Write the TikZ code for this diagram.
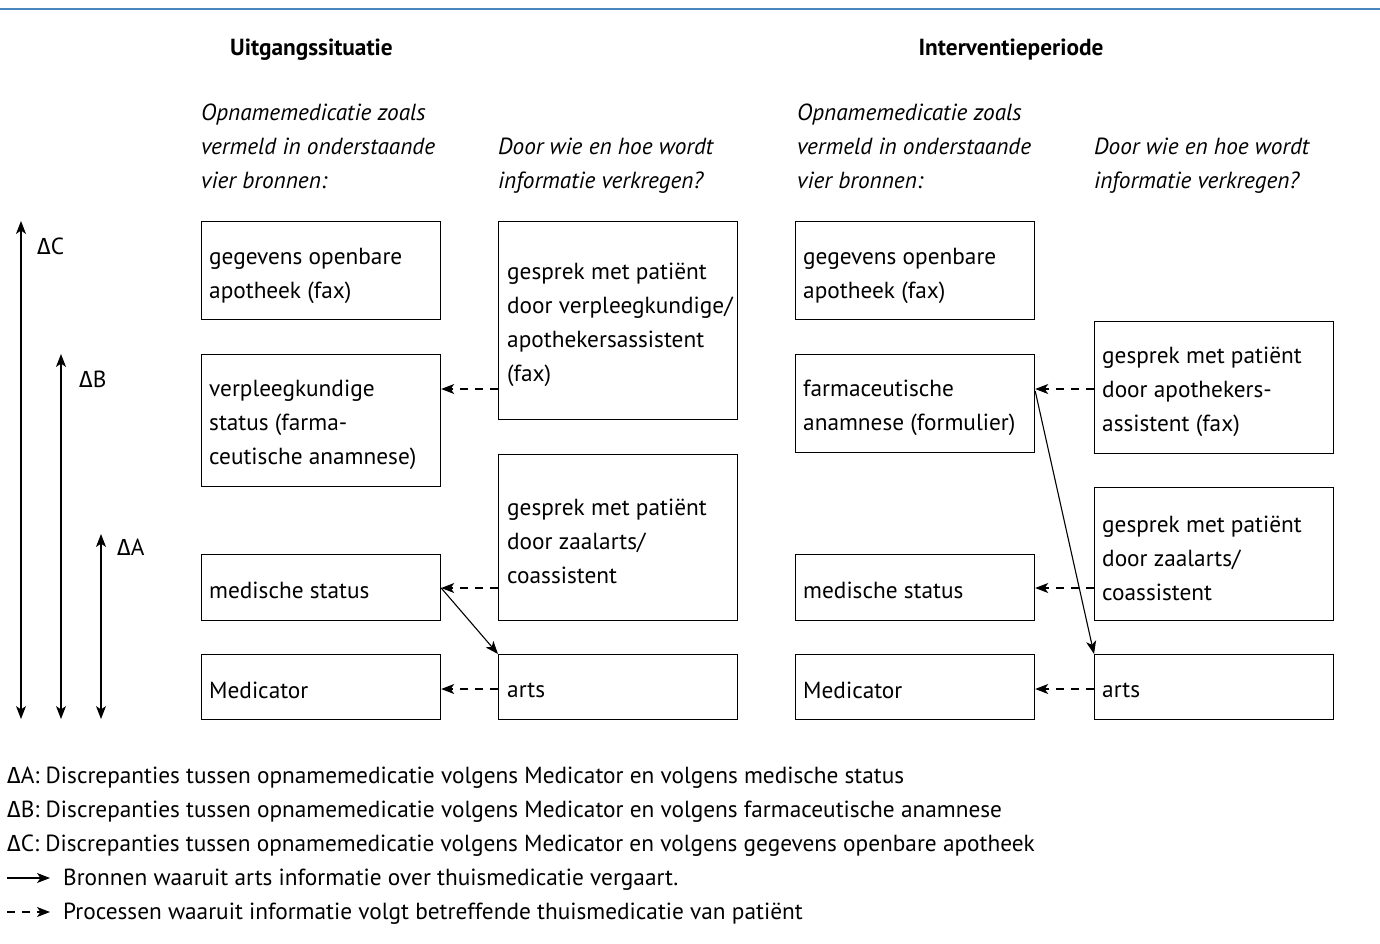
\documentclass[tikz,border=0pt]{standalone}
\usepackage{fontspec}
\setmainfont{PT Sans}
\newfontfamily\grkfont{Fira Sans}
\usetikzlibrary{arrows.meta}
\newcommand{\Dlt}{{\grkfont Δ}}
\definecolor{topblue}{HTML}{4A86BE}
\begin{document}
\begin{tikzpicture}[x=1pt,y=-1pt,
  box/.style={draw, line width=1.2pt, minimum width=239pt, inner sep=0pt, anchor=north west},
  txt/.style={align=left, inner sep=0pt, anchor=west, font=\fontsize{23.3}{34}\selectfont},
  lbl/.style={inner sep=0pt, anchor=base west, font=\fontsize{23.3}{34}\selectfont},
  ttl/.style={inner sep=0pt, anchor=base, font=\fontsize{23.3}{34}\selectfont\bfseries},
  itl/.style={align=left, inner sep=0pt, anchor=west, font=\fontsize{23.3}{34}\selectfont\itshape},
  tipped/.style={-{Stealth[length=13pt,width=10pt,inset=3.5pt]}},
  dbl/.style={{Stealth[length=13pt,width=10pt,inset=3.5pt]}-{Stealth[length=13pt,width=10pt,inset=3.5pt]}, line width=1.1pt},
  dsh/.style={tipped, dash pattern=on 8pt off 7pt, line width=1.1pt},
  sld/.style={tipped, line width=1.1pt}]
\useasboundingbox (0,0) rectangle (1380,943);
% top rule
\coordinate (tl) at (0,8.5);
\coordinate (tr) at (1380,8.5);
\draw[topblue, line width=2pt] (tl) -- (tr);
% titles
\node[ttl] (t1) at (311.5,55) {Uitgangssituatie};
\node[ttl] (t2) at (1011,55) {Interventieperiode};
\node[itl] (h1) at (201,146.5) {Opnamemedicatie zoals\\vermeld in onderstaande\\vier bronnen:};
\node[itl] (h2) at (498,166) {Door wie en hoe wordt\\informatie verkregen?};
\node[itl] (h3) at (797,146.5) {Opnamemedicatie zoals\\vermeld in onderstaande\\vier bronnen:};
\node[itl] (h4) at (1094,166) {Door wie en hoe wordt\\informatie verkregen?};
% left group boxes
\node[box, minimum height=98pt] (b1) at (201,221) {};
\node[box, minimum height=132pt] (b2) at (201,354) {};
\node[box, minimum height=66pt] (b3) at (201,554) {};
\node[box, minimum height=65pt] (b4) at (201,654) {};
\node[box, minimum height=198pt] (c1) at (498,221) {};
\node[box, minimum height=166pt] (c2) at (498,454) {};
\node[box, minimum height=65pt] (c3) at (498,654) {};
\node[txt] (b1t) at (209,275.5) {gegevens openbare\\apotheek (fax)};
\node[txt] (b2t) at (209,424.5) {verpleegkundige\\status (farma-\\ceutische anamnese)};
\node[txt] (b3t) at (209,590) {medische status};
\node[txt] (b4t) at (209,690) {Medicator};
\node[txt] (c1t) at (507,325) {gesprek met patiënt\\door verpleegkundige/\\apothekersassistent\\(fax)};
\node[txt] (c2t) at (507,541.5) {gesprek met patiënt\\door zaalarts/\\coassistent};
\node[txt] (c3t) at (507,690) {arts};
% right group boxes
\node[box, minimum height=98pt] (d1) at (795,221) {};
\node[box, minimum height=98pt] (d2) at (795,354) {};
\node[box, minimum height=66pt] (d3) at (795,554) {};
\node[box, minimum height=65pt] (d4) at (795,654) {};
\node[box, minimum height=132pt] (e1) at (1094,321) {};
\node[box, minimum height=133pt] (e2) at (1094,487) {};
\node[box, minimum height=65pt] (e3) at (1094,654) {};
\node[txt] (d1t) at (803,275.5) {gegevens openbare\\apotheek (fax)};
\node[txt] (d2t) at (803,408) {farmaceutische\\anamnese (formulier)};
\node[txt] (d3t) at (803,590) {medische status};
\node[txt] (d4t) at (803,690) {Medicator};
\node[txt] (e1t) at (1102,391.5) {gesprek met patiënt\\door apothekers-\\assistent (fax)};
\node[txt] (e2t) at (1102,558) {gesprek met patiënt\\door zaalarts/\\coassistent};
\node[txt] (e3t) at (1102,690) {arts};
% connectors left
\draw[dsh] (c1.west |- 0,389) -- (b2.east |- 0,389);
\draw[dsh] (c2.west |- 0,588) -- (b3.east |- 0,588);
\draw[dsh] (c3.west |- 0,689) -- (b4.east |- 0,689);
\draw[sld] (b3.east |- 0,588) -- (c3.north west);
% connectors right
\draw[dsh] (e1.west |- 0,389) -- (d2.east |- 0,389);
\draw[dsh] (e2.west |- 0,588) -- (d3.east |- 0,588);
\draw[dsh] (e3.west |- 0,689) -- (d4.east |- 0,689);
\draw[sld] (d2.east |- 0,391) -- (e3.north west);
% delta arrows
\coordinate (cT) at (21,221); \coordinate (cB) at (21,719);
\coordinate (bT) at (61,354); \coordinate (bB) at (61,719);
\coordinate (aT) at (101,534); \coordinate (aB) at (101,719);
\draw[dbl] (cT) -- (cB);
\draw[dbl] (bT) -- (bB);
\draw[dbl] (aT) -- (aB);
\node[lbl] (lc) at (37,254) {\Dlt C};
\node[lbl] (lb) at (79,387) {\Dlt B};
\node[lbl] (la) at (117,555) {\Dlt A};
% legend
\node[lbl] (g1) at (7,783) {\Dlt A: Discrepanties tussen opnamemedicatie volgens Medicator en volgens medische status};
\node[lbl] (g2) at (7,817) {\Dlt B: Discrepanties tussen opnamemedicatie volgens Medicator en volgens farmaceutische anamnese};
\node[lbl] (g3) at (7,851) {\Dlt C: Discrepanties tussen opnamemedicatie volgens Medicator en volgens gegevens openbare apotheek};
\coordinate (s1) at (7,878); \coordinate (s2) at (50,878);
\draw[sld] (s1) -- (s2);
\node[lbl] (g4) at (63,885) {Bronnen waaruit arts informatie over thuismedicatie vergaart.};
\coordinate (p1) at (7,912); \coordinate (p2) at (50,912);
\draw[dsh] (p1) -- (p2);
\node[lbl] (g5) at (63,919) {Processen waaruit informatie volgt betreffende thuismedicatie van patiënt};
\end{tikzpicture}
\end{document}
